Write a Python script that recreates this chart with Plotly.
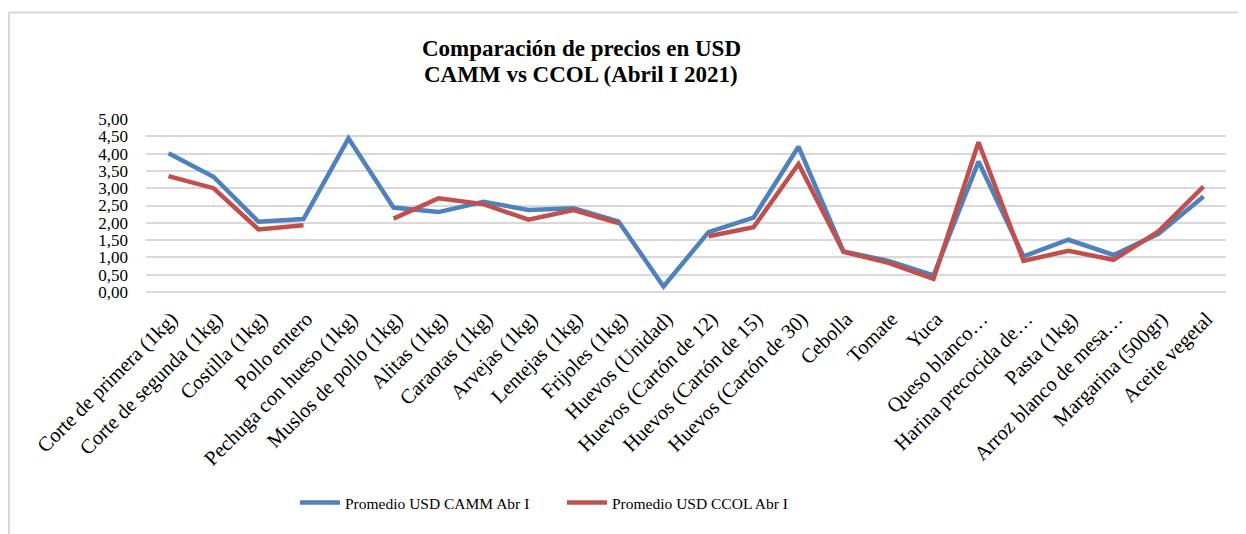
import plotly.graph_objects as go

# ---------------------------------------------------------------------------
# Data
# ---------------------------------------------------------------------------
productos = [
    "Corte de primera (1kg)", "Corte de segunda (1kg)", "Costilla (1kg)",
    "Pollo entero", "Pechuga con hueso (1kg)", "Muslos de pollo (1kg)",
    "Alitas (1kg)", "Caraotas (1kg)", "Arvejas (1kg)", "Lentejas (1kg)",
    "Frijoles (1kg)", "Huevos (Unidad)", "Huevos (Cartón de 12)",
    "Huevos (Cartón de 15)", "Huevos (Cartón de 30)", "Cebolla", "Tomate",
    "Yuca", "Queso blanco…", "Harina precocida de…", "Pasta (1kg)",
    "Arroz blanco de mesa…", "Margarina (500gr)", "Aceite vegetal",
]

camm_usd = [
    4.01, 3.33, 2.03, 2.11, 4.44, 2.44, 2.31, 2.61, 2.37, 2.42, 2.04, 0.16,
    1.73, 2.15, 4.20, 1.17, 0.90, 0.48, 3.77, 1.03, 1.51, 1.07, 1.68, 2.76,
]

ccol_usd = [
    3.35, 3.00, 1.81, 1.93, None, 2.12, 2.71, 2.54, 2.09, 2.37, 1.99, None,
    1.61, 1.87, 3.70, 1.16, 0.84, 0.38, 4.33, 0.90, 1.19, 0.93, 1.75, 3.05,
]

y_ticks = [0, 0.5, 1, 1.5, 2, 2.5, 3, 3.5, 4, 4.5, 5]

BLUE = "#4F81BD"
RED = "#C0504D"
GRID = "#D9D9D9"
FONT = "Liberation Serif"

# the page body adds an 8px margin, so the figure is a bit smaller
OFF = 8
W, H = 1246 - OFF, 534 - OFF
L, T = 146 - OFF, 119 - OFF
pw, ph = 1080, 173
R, B = W - L - pw, H - T - ph


def px_x(x):
    # screen pixel -> paper x
    return (x - OFF - L) / pw


def px_y(y):
    # screen pixel -> paper y
    return (T + ph - (y - OFF)) / ph


fig = go.Figure()

fig.add_trace(go.Scatter(
    x=productos, y=camm_usd, name="Promedio USD CAMM Abr I",
    mode="lines", line=dict(color=BLUE, width=4.5),
))
fig.add_trace(go.Scatter(
    x=productos, y=ccol_usd, name="Promedio USD CCOL Abr I",
    mode="lines", line=dict(color=RED, width=4.5), connectgaps=False,
))

fig.update_layout(
    width=W, height=H,
    paper_bgcolor="white",
    plot_bgcolor="white",
    separators=",.",
    font=dict(family=FONT, color="#000000", size=18),
    margin=dict(l=L, r=R, t=T, b=B, autoexpand=False),
    showlegend=True,
    legend=dict(
        orientation="h",
        x=px_x(562), xanchor="center",
        y=px_y(503), yanchor="middle",
        font=dict(size=15.5, family=FONT),
        itemwidth=40,
        entrywidth=212,
        bgcolor="rgba(0,0,0,0)",
    ),
    xaxis=dict(
        showgrid=False,
        tickangle=-45,
        tickfont=dict(size=20.5, family=FONT),
        showline=False,
        ticks="",
        automargin=False,
        ticklabelshift=3,
        ticklabelstandoff=10,
        range=[-0.5, len(productos) - 0.5],
    ),
    yaxis=dict(
        range=[0, 5],
        tickvals=y_ticks,
        tickformat=".2f",
        showgrid=True,
        gridcolor=GRID,
        gridwidth=1.5,
        zeroline=True,
        zerolinecolor=GRID,
        zerolinewidth=1.5,
        showline=False,
        ticks="",
        automargin=False,
        tickfont=dict(size=17, family=FONT),
        ticklabelstandoff=17,
    ),
)

# Title, two bold lines
for line, y in [("Comparación de precios en USD", 48),
                ("CAMM vs CCOL (Abril I 2021)", 75)]:
    fig.add_annotation(
        x=px_x(581), xref="paper", xanchor="center",
        y=px_y(y), yref="paper", yanchor="middle",
        text=f"<b>{line}</b>",
        showarrow=False,
        font=dict(size=23, family=FONT, color="#000000"),
    )

# Chart frame: top and left edges
x_left, x_right = px_x(9), px_x(1246)
y_top, y_bot = px_y(12.5), px_y(534)
fig.add_shape(type="line", xref="paper", yref="paper",
              x0=x_left, x1=x_right, y0=y_top, y1=y_top,
              line=dict(color=GRID, width=2))
fig.add_shape(type="line", xref="paper", yref="paper",
              x0=x_left, x1=x_left, y0=y_top, y1=y_bot,
              line=dict(color=GRID, width=2))

fig.write_html("out.html")
